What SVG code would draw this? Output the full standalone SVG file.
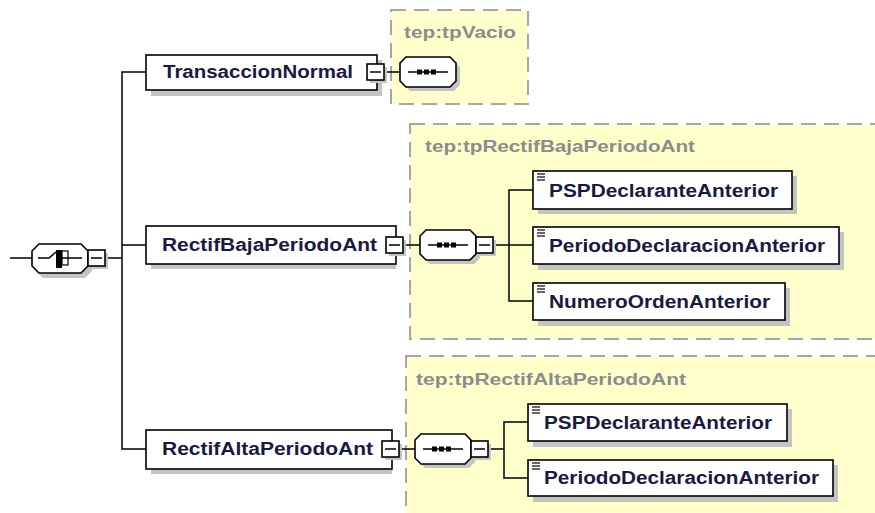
<svg xmlns="http://www.w3.org/2000/svg" width="875" height="513" viewBox="0 0 875 513">
<style>
.ybox{fill:#ffffcc;stroke:#a6a6a6;stroke-width:2;stroke-dasharray:15 8}
.sh{fill:#c4c4c4}
.el{fill:#fff;stroke:#000;stroke-width:1.6}
.ln{fill:none;stroke:#000;stroke-width:1.5}
.lbl{font-family:"Liberation Sans",Arial,sans-serif;font-weight:bold;font-size:18px;fill:#1a1a40}
.tp{font-family:"Liberation Sans",Arial,sans-serif;font-weight:bold;font-size:16px;fill:#8c8c8c}
</style>
<defs>
<g id="seq">
<polygon class="sh" points="10,4 54,4 60,10 60,28 54,34 10,34 4,28 4,10"/>
<polygon class="el" points="6,0 50,0 56,6 56,24 50,30 6,30 0,24 0,6"/>
<line class="ln" x1="8" y1="15" x2="48" y2="15"/>
<rect x="17" y="12.5" width="5" height="5" fill="#000"/>
<rect x="24" y="12.5" width="5" height="5" fill="#000"/>
<rect x="31" y="12.5" width="5" height="5" fill="#000"/>
</g>
<g id="minus">
<rect class="sh" x="3" y="3" width="17" height="16"/>
<rect class="el" x="0" y="0" width="17" height="16"/>
<line class="ln" x1="3" y1="8" x2="14" y2="8"/>
</g>
<g id="doc">
<line x1="0" y1="0" x2="8" y2="0" stroke="#000" stroke-width="1.2"/>
<line x1="0" y1="3" x2="8" y2="3" stroke="#000" stroke-width="1.2"/>
<line x1="0" y1="6" x2="8" y2="6" stroke="#000" stroke-width="1.2"/>
</g>
</defs>

<rect width="875" height="513" fill="#fff"/>

<g id="type-tpVacio">
<rect class="ybox" x="391" y="10" width="137" height="94"/>
<text class="tp" x="404" y="38" textLength="112" lengthAdjust="spacingAndGlyphs">tep:tpVacio</text>
</g>
<g id="type-tpRectifBajaPeriodoAnt">
<rect class="ybox" x="410" y="124" width="480" height="215"/>
<text class="tp" x="425" y="152" textLength="270" lengthAdjust="spacingAndGlyphs">tep:tpRectifBajaPeriodoAnt</text>
</g>
<g id="type-tpRectifAltaPeriodoAnt">
<rect class="ybox" x="406" y="356" width="480" height="170"/>
<text class="tp" x="416" y="385" textLength="270" lengthAdjust="spacingAndGlyphs">tep:tpRectifAltaPeriodoAnt</text>
</g>

<g id="connectors" class="ln">
<line x1="10" y1="258" x2="32" y2="258"/>
<line x1="106" y1="258" x2="122" y2="258"/>
<polyline points="146,72 122,72 122,449 146,449"/>
<line x1="122" y1="245" x2="146" y2="245"/>
<line x1="383" y1="72" x2="400" y2="72"/>
<line x1="404" y1="245" x2="420" y2="245"/>
<line x1="493" y1="245" x2="533" y2="245"/>
<polyline points="533,190 509,190 509,301 533,301"/>
<line x1="400" y1="449" x2="415" y2="449"/>
<line x1="489" y1="449" x2="504" y2="449"/>
<polyline points="528,422 504,422 504,478 528,478"/>
</g>

<g id="choice">
<polygon class="sh" points="43,249 85,249 92,256 92,271 85,278 43,278 36,271 36,256"/>
<polygon class="el" points="39,244 81,244 88,251 88,266 81,273 39,273 32,266 32,251"/>
<polyline class="ln" points="38,258 49,258 56,252"/>
<rect x="56" y="250" width="6" height="18" fill="#000"/>
<rect x="62" y="251" width="6" height="14" fill="#fff" stroke="#000" stroke-width="1.2"/>
<line class="ln" x1="62" y1="258" x2="82" y2="258"/>
<use href="#minus" x="88" y="250"/>
</g>

<g id="TransaccionNormal">
<rect class="sh" x="151" y="60" width="231" height="36"/>
<rect class="el" x="146" y="55" width="231" height="35"/>
<text class="lbl" x="163" y="78" textLength="190" lengthAdjust="spacingAndGlyphs">TransaccionNormal</text>
<use href="#minus" x="367" y="64"/>
</g>
<g id="seq-tpVacio"><use href="#seq" x="400" y="57"/></g>

<g id="RectifBajaPeriodoAnt">
<rect class="sh" x="151" y="231" width="245" height="38"/>
<rect class="el" x="146" y="226" width="250" height="38"/>
<text class="lbl" x="162" y="251" textLength="215" lengthAdjust="spacingAndGlyphs">RectifBajaPeriodoAnt</text>
<use href="#minus" x="386" y="237"/>
</g>
<g id="seq-baja"><use href="#seq" x="420" y="230"/><use href="#minus" x="476" y="237"/></g>

<g id="baja-PSPDeclaranteAnterior">
<rect class="sh" x="538" y="176" width="259" height="38"/>
<rect class="el" x="533" y="171" width="259" height="38"/>
<use href="#doc" x="537" y="174"/>
<text class="lbl" x="549" y="197" textLength="229" lengthAdjust="spacingAndGlyphs">PSPDeclaranteAnterior</text>
</g>
<g id="baja-PeriodoDeclaracionAnterior">
<rect class="sh" x="538" y="232" width="306" height="38"/>
<rect class="el" x="533" y="227" width="306" height="37"/>
<use href="#doc" x="537" y="230"/>
<text class="lbl" x="549" y="252" textLength="276" lengthAdjust="spacingAndGlyphs">PeriodoDeclaracionAnterior</text>
</g>
<g id="baja-NumeroOrdenAnterior">
<rect class="sh" x="538" y="288" width="252" height="38"/>
<rect class="el" x="533" y="283" width="252" height="37"/>
<use href="#doc" x="537" y="286"/>
<text class="lbl" x="549" y="308" textLength="221" lengthAdjust="spacingAndGlyphs">NumeroOrdenAnterior</text>
</g>

<g id="RectifAltaPeriodoAnt">
<rect class="sh" x="151" y="435" width="241" height="39"/>
<rect class="el" x="146" y="430" width="246" height="39"/>
<text class="lbl" x="162" y="455" textLength="211" lengthAdjust="spacingAndGlyphs">RectifAltaPeriodoAnt</text>
<use href="#minus" x="382" y="441"/>
</g>
<g id="seq-alta"><use href="#seq" x="415" y="434"/><use href="#minus" x="471" y="441"/></g>

<g id="alta-PSPDeclaranteAnterior">
<rect class="sh" x="533" y="409" width="259" height="38"/>
<rect class="el" x="528" y="404" width="259" height="37"/>
<use href="#doc" x="532" y="407"/>
<text class="lbl" x="544" y="429" textLength="228" lengthAdjust="spacingAndGlyphs">PSPDeclaranteAnterior</text>
</g>
<g id="alta-PeriodoDeclaracionAnterior">
<rect class="sh" x="533" y="465" width="305" height="37"/>
<rect class="el" x="528" y="460" width="305" height="36"/>
<use href="#doc" x="532" y="463"/>
<text class="lbl" x="544" y="484" textLength="275" lengthAdjust="spacingAndGlyphs">PeriodoDeclaracionAnterior</text>
</g>
</svg>
